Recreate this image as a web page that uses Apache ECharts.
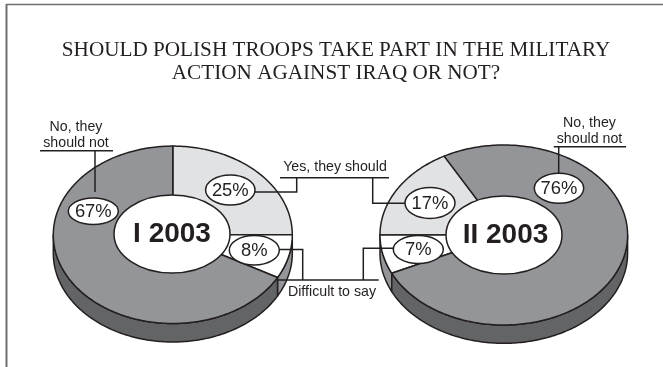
<!DOCTYPE html>
<html>
<head>
<meta charset="utf-8">
<style>html,body{margin:0;padding:0;background:#fff}#chart{width:663px;height:367px}</style>
<script src="https://cdn.jsdelivr.net/npm/echarts@6/dist/echarts.min.js"></script>
</head>
<body>
<div id="chart"></div>
<script>
// Survey answers, in percent
const categories = ['Yes, they should', 'Difficult to say', 'No, they\nshould not'];
const periods = ['I 2003', 'II 2003'];
const valuesJan = [25, 8, 67];
const valuesFeb = [17, 7, 76];

const INK = '#231f20';
const topColors = ['#e1e2e4', '#ffffff', '#939598'];
const wallColors = ['#636466', '#939598', '#636466'];
const LABEL_FONT = '14.2px "Liberation Sans", Arial, sans-serif';
const VALUE_FONT = '18.4px "Liberation Sans", Arial, sans-serif';
const CENTER_FONT = 'bold 28px "Liberation Sans", Arial, sans-serif';
const STROKE = 1.5;

// Geometry of each tilted ring. order = clockwise drawing order of the answers.
const pies = [
  { cx: 172.8, cy: 234.8, rx: 119.5, ry: 88.7, depth: 18.5, hole: [172, 234, 58, 39], start: 0,
    order: [0, 1, 2], values: valuesJan, title: periods[0], titlePos: [172, 234],
    bubbles: [[230.3, 190, 24.7, 15], [254.3, 250.3, 25, 14.7], [93.3, 211.3, 25, 13.3]],
    leaders: [
      [[255, 192], [296.7, 192], [296.7, 177.7]],
      [[279, 249.5], [302.7, 249.5], [302.7, 280]],
      [[95, 192], [95, 150.7]]
    ] },
  { cx: 503.8, cy: 235, rx: 123.8, ry: 90, depth: 18.3, hole: [504, 235, 58, 39], start: 270,
    order: [0, 2, 1], values: valuesFeb, title: periods[1], titlePos: [505.5, 235.5],
    bubbles: [[430, 203, 25, 15.5], [418.3, 249.5, 25, 14], [559, 188.3, 24.7, 15]],
    leaders: [
      [[405, 203.3], [372.7, 203.3], [372.7, 177.7]],
      [[393.3, 248.3], [363.3, 248.3], [363.3, 280]],
      [[558.7, 173.5], [558.7, 146.7]]
    ] }
];

const rad = d => d * Math.PI / 180;
const edgePoint = (p, deg, dy) => [p.cx + p.rx * Math.sin(rad(deg)), p.cy - p.ry * Math.cos(rad(deg)) + (dy || 0)];
function arcPoints(p, a, b, dy) {
  const pts = [], n = Math.max(2, Math.ceil(Math.abs(b - a)));
  for (let i = 0; i <= n; i++) pts.push(edgePoint(p, a + (b - a) * i / n, dy));
  return pts;
}
function sliceSpan(p, category) {
  let from = p.start;
  for (const c of p.order) {
    const sweep = p.values[c] * 3.6;
    if (c === category) return [from, from + sweep];
    from += sweep;
  }
}
const lineStyle = { fill: null, stroke: INK, lineWidth: STROKE };

function renderSlice(pie, category) {
  const [a, b] = sliceSpan(pie, category);
  const kids = [];
  // The rim is only visible along the near half of the ellipse
  [[90, 270], [450, 630]].forEach(([lo, hi]) => {
    const s = Math.max(a, lo), e = Math.min(b, hi);
    if (e > s) {
      kids.push({
        type: 'polygon', z2: 1,
        shape: { points: arcPoints(pie, s, e, 0).concat(arcPoints(pie, e, s, pie.depth)) },
        style: { fill: wallColors[category], stroke: INK, lineWidth: STROKE, lineJoin: 'round' }
      });
    }
  });
  kids.push({
    type: 'polygon', z2: 2,
    shape: { points: [[pie.cx, pie.cy]].concat(arcPoints(pie, a, b, 0)) },
    style: { fill: topColors[category], stroke: INK, lineWidth: STROKE, lineJoin: 'round' }
  });
  const [bx, by, brx, bry] = pie.bubbles[category];
  kids.push({ type: 'polyline', z2: 4, shape: { points: pie.leaders[category] }, style: lineStyle });
  kids.push({
    type: 'ellipse', z2: 5, shape: { cx: bx, cy: by, rx: brx, ry: bry },
    style: { fill: '#fff', stroke: INK, lineWidth: STROKE }
  });
  kids.push({
    type: 'text', z2: 6,
    style: { text: pie.values[category] + '%', x: bx, y: by + 0.5, align: 'center', verticalAlign: 'middle',
      fill: INK, font: VALUE_FONT }
  });
  return { type: 'group', children: kids };
}

function hubChildren(pie) {
  const [hx, hy, hrx, hry] = pie.hole;
  return [
    { type: 'ellipse', z2: 3, shape: { cx: hx, cy: hy, rx: hrx, ry: hry },
      style: { fill: '#fff', stroke: INK, lineWidth: STROKE } },
    { type: 'text', z2: 6,
      style: { text: pie.title, x: pie.titlePos[0], y: pie.titlePos[1], align: 'center', verticalAlign: 'middle',
        fill: INK, font: CENTER_FONT } }
  ];
}

const series = pies.map(pie => ({
  type: 'custom',
  coordinateSystem: 'none',
  silent: true,
  data: pie.values.map((v, i) => [v, i]),
  renderItem(params) {
    const g = renderSlice(pie, params.dataIndex);
    if (params.dataIndex === 0) g.children = g.children.concat(hubChildren(pie));
    return g;
  }
}));

const textEl = (text, x, y) => ({
  type: 'text', z: 10, silent: true,
  style: { text, x, y, align: 'center', verticalAlign: 'middle', fill: INK, font: LABEL_FONT, lineHeight: 16 }
});
const ruleEl = (x1, y1, x2, y2, color, width) => ({
  type: 'line', z: 9, silent: true,
  shape: { x1, y1, x2, y2 },
  style: { stroke: color || INK, lineWidth: width || STROKE }
});

const chart = echarts.init(document.getElementById('chart'), null, { renderer: 'canvas' });
chart.setOption({
  animation: false,
  backgroundColor: '#ffffff',
  title: {
    text: 'SHOULD POLISH TROOPS TAKE PART IN THE MILITARY\nACTION AGAINST IRAQ OR NOT?',
    left: 331, top: 34.5, textAlign: 'center',
    textStyle: { fontFamily: '"Liberation Serif", "Times New Roman", serif', fontWeight: 'normal',
      fontSize: 21.2, lineHeight: 22.7, color: INK }
  },
  series,
  graphic: { elements: [
    // page frame: top and left edges only
    ruleEl(6, 4.5, 663, 4.5, '#6d6e71', 1.6),
    ruleEl(6.5, 4, 6.5, 367, '#6d6e71', 2),
    // shared answer labels
    textEl(categories[0], 335, 167.5),
    ruleEl(280, 177.7, 389, 177.7),
    textEl(categories[1], 332, 292),
    ruleEl(277, 280, 378.7, 280),
    textEl(categories[2], 76, 135.5),
    ruleEl(40, 150.7, 113, 150.7),
    textEl(categories[2], 589.5, 131),
    ruleEl(553.7, 146.7, 626, 146.7)
  ] }
});
</script>
</body>
</html>
